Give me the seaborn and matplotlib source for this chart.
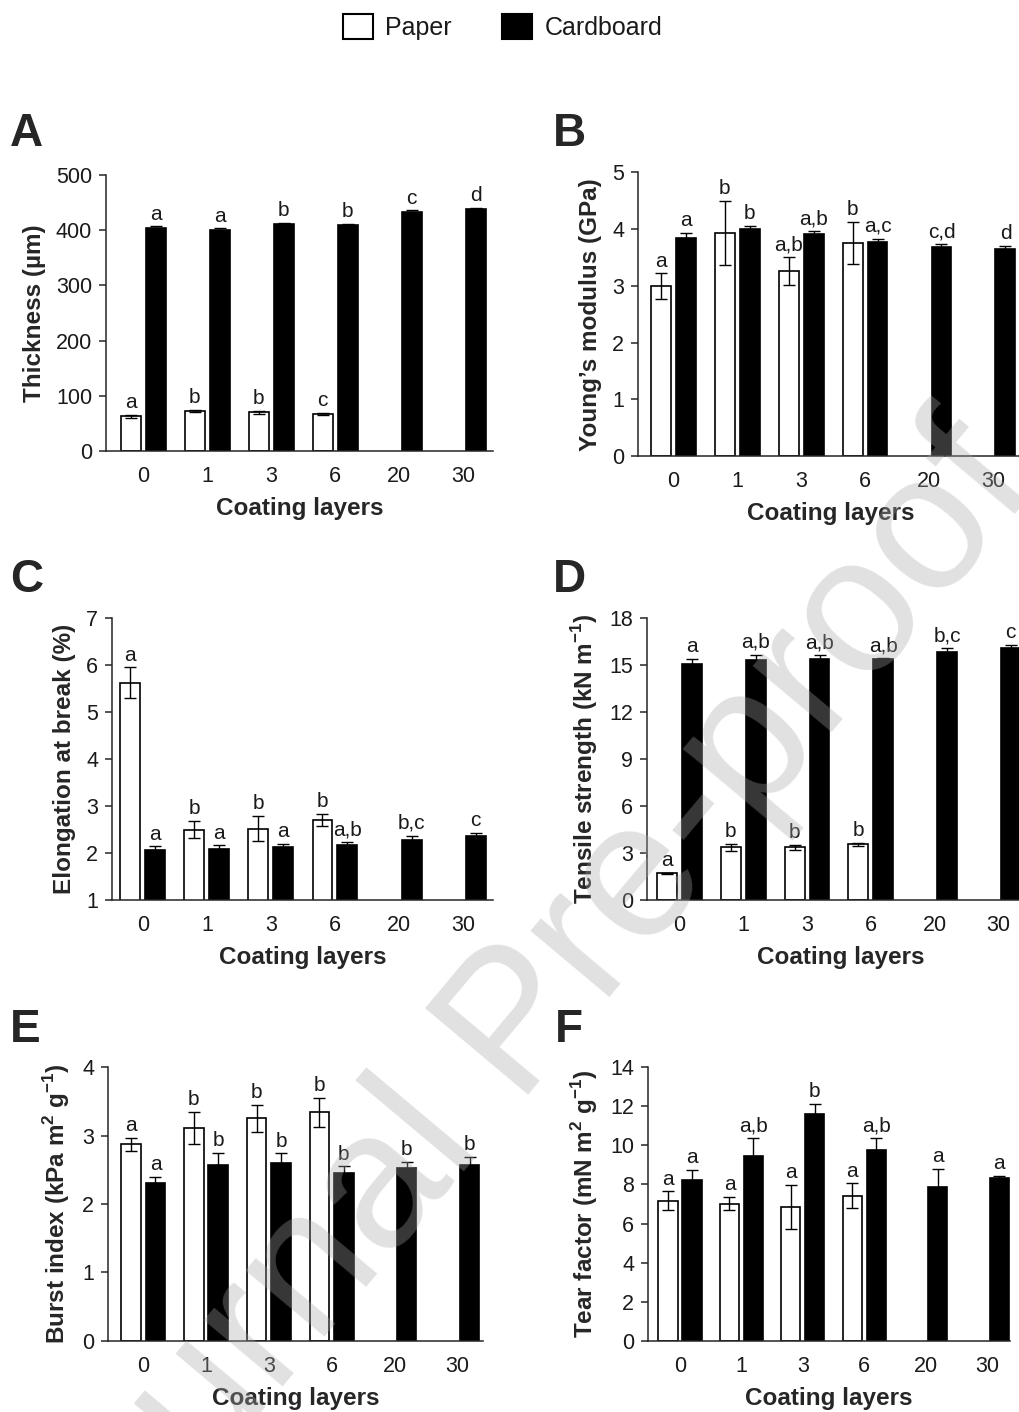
import pandas as pd
import seaborn as sns
import matplotlib
matplotlib.use("Agg")
import matplotlib.pyplot as plt
from matplotlib.patches import Patch

# datos
layers = ["0", "1", "3", "6", "20", "30"]
materials = ["Paper", "Cardboard"]

thick_paper = [63, 72, 70, 67]
thick_paper_err = [3, 2, 3, 2]
thick_paper_sig = ["a", "b", "b", "c"]
thick_card = [404, 401, 411, 409, 433, 439]
thick_card_err = [3, 2, 2, 3, 3, 2]
thick_card_sig = ["a", "a", "b", "b", "c", "d"]

young_paper = [2.99, 3.93, 3.26, 3.75]
young_paper_err = [0.23, 0.57, 0.24, 0.37]
young_paper_sig = ["a", "b", "a,b", "b"]
young_card = [3.84, 4.00, 3.91, 3.78, 3.68, 3.65]
young_card_err = [0.09, 0.06, 0.05, 0.05, 0.06, 0.05]
young_card_sig = ["a", "b", "a,b", "a,c", "c,d", "d"]

elong_paper = [5.62, 2.50, 2.52, 2.71]
elong_paper_err = [0.33, 0.18, 0.27, 0.13]
elong_paper_sig = ["a", "b", "b", "b"]
elong_card = [2.06, 2.08, 2.13, 2.17, 2.27, 2.37]
elong_card_err = [0.08, 0.08, 0.06, 0.06, 0.10, 0.06]
elong_card_sig = ["a", "a", "a", "a,b", "b,c", "c"]

tensile_paper = [1.70, 3.36, 3.36, 3.55]
tensile_paper_err = [0.05, 0.22, 0.15, 0.10]
tensile_paper_sig = ["a", "b", "b", "b"]
tensile_card = [15.09, 15.30, 15.40, 15.36, 15.80, 16.06]
tensile_card_err = [0.32, 0.36, 0.25, 0.10, 0.30, 0.23]
tensile_card_sig = ["a", "a,b", "a,b", "a,b", "b,c", "c"]

burst_paper = [2.87, 3.11, 3.25, 3.34]
burst_paper_err = [0.10, 0.24, 0.20, 0.21]
burst_paper_sig = ["a", "b", "b", "b"]
burst_card = [2.30, 2.57, 2.60, 2.46, 2.52, 2.57]
burst_card_err = [0.10, 0.18, 0.14, 0.09, 0.10, 0.12]
burst_card_sig = ["a", "b", "b", "b", "b", "b"]

tear_paper = [7.17, 7.02, 6.85, 7.43]
tear_paper_err = [0.47, 0.34, 1.12, 0.62]
tear_paper_sig = ["a", "a", "a", "a"]
tear_card = [8.25, 9.43, 11.60, 9.76, 7.87, 8.35]
tear_card_err = [0.50, 0.94, 0.50, 0.62, 0.94, 0.08]
tear_card_sig = ["a", "a,b", "b", "a,b", "a", "a"]

sns.set_style("ticks")
plt.rcParams["font.family"] = ["Liberation Sans", "DejaVu Sans"]
plt.rcParams["mathtext.fontset"] = "custom"
plt.rcParams["mathtext.rm"] = "Liberation Sans"
plt.rcParams["mathtext.bf"] = "Liberation Sans:bold"
plt.rcParams["axes.linewidth"] = 1.1

TXT = "#1a1a1a"
W, H = 1019, 1412


def panel(rect, xlim, letter, letter_xy, ylabel, ylim, step,
          paper, paper_err, paper_sig, card, card_err, card_sig):
    ax = fig.add_axes(rect)
    df = pd.DataFrame({
        "layers": layers[:len(paper)] + layers,
        "value": paper + card,
        "material": ["Paper"] * len(paper) + ["Cardboard"] * len(card),
    })
    sns.barplot(data=df, x="layers", y="value", hue="material",
                order=layers, hue_order=materials,
                palette={"Paper": "white", "Cardboard": "black"},
                edgecolor="black", linewidth=1.2, saturation=1,
                width=0.78, gap=0.2, errorbar=None, legend=False, ax=ax)

    for cont, errs, sigs in zip(ax.containers,
                                [paper_err, card_err], [paper_sig, card_sig]):
        xs = [b.get_x() + b.get_width() / 2 for b in cont]
        hs = [b.get_height() for b in cont]
        ax.errorbar(xs, hs, yerr=errs, fmt="none", ecolor="black",
                    elinewidth=1.0, capsize=4, capthick=1.0)
        for x, h, e, s in zip(xs, hs, errs, sigs):
            ax.annotate(s, (x, h + e), xytext=(0, 2), textcoords="offset points",
                        ha="center", va="bottom", fontsize=15, color=TXT)

    ax.set_xlim(*xlim)
    ax.set_ylim(*ylim)
    ax.set_yticks(range(ylim[0], ylim[1] + 1, step))
    sns.despine(ax=ax)
    ax.tick_params(axis="x", length=0, pad=11, labelsize=15.5, labelcolor=TXT)
    ax.tick_params(axis="y", length=5, width=1.1, pad=5, labelsize=15.5,
                   labelcolor=TXT)
    ax.set_xlabel("Coating layers", fontsize=17.5, fontweight="bold", labelpad=7)
    ax.set_ylabel(ylabel, fontsize=17.5, fontweight="bold", labelpad=7)
    fig.text(letter_xy[0] / W, 1 - letter_xy[1] / H, letter,
             fontsize=33, fontweight="bold", ha="left", va="top")
    return ax


fig = plt.figure(figsize=(10.19, 14.12), dpi=100)

panel([0.104, 0.6806, 0.380, 0.1955], (-0.58, 5.47), "A", (10, 112),
      "Thickness (µm)", (0, 500), 100, thick_paper, thick_paper_err,
      thick_paper_sig, thick_card, thick_card_err, thick_card_sig)
panel([0.626, 0.677, 0.378, 0.201], (-0.55, 5.47), "B", (553, 112),
      "Young’s modulus (GPa)", (0, 5), 1, young_paper, young_paper_err,
      young_paper_sig, young_card, young_card_err, young_card_sig)
panel([0.110, 0.3626, 0.374, 0.1997], (-0.48, 5.47), "C", (10, 558),
      "Elongation at break (%)", (1, 7), 1, elong_paper, elong_paper_err,
      elong_paper_sig, elong_card, elong_card_err, elong_card_sig)
panel([0.635, 0.3626, 0.381, 0.1997], (-0.51, 5.58), "D", (553, 558),
      r"Tensile strength (kN m$^{\mathbf{-1}}$)", (0, 18), 3, tensile_paper,
      tensile_paper_err, tensile_paper_sig, tensile_card, tensile_card_err,
      tensile_card_sig)
panel([0.106, 0.0503, 0.368, 0.194], (-0.56, 5.41), "E", (10, 1008),
      r"Burst index (kPa m$^{\mathbf{2}}$ g$^{\mathbf{-1}}$)", (0, 4), 1,
      burst_paper, burst_paper_err, burst_paper_sig, burst_card,
      burst_card_err, burst_card_sig)
panel([0.636, 0.0503, 0.355, 0.194], (-0.52, 5.37), "F", (555, 1008),
      r"Tear factor (mN m$^{\mathbf{2}}$ g$^{\mathbf{-1}}$)", (0, 14), 2,
      tear_paper, tear_paper_err, tear_paper_sig, tear_card, tear_card_err,
      tear_card_sig)

handles = [Patch(facecolor="white", edgecolor="black", linewidth=1.5),
           Patch(facecolor="black", edgecolor="black", linewidth=1.5)]
fig.legend(handles, materials, loc="center", bbox_to_anchor=(0.493, 0.981),
           ncol=2, frameon=False, fontsize=18, handlelength=1.2,
           handleheight=1.2, handletextpad=0.5, columnspacing=2.0,
           labelcolor=TXT)

# marca de agua
fig.text(518 / W, 1 - 1028 / H, "Journal Pre-proof", rotation=50,
         fontsize=140, color="0.65", alpha=0.34, ha="center", va="center",
         rotation_mode="anchor", zorder=10)

fig.savefig("out.png", dpi=100)
